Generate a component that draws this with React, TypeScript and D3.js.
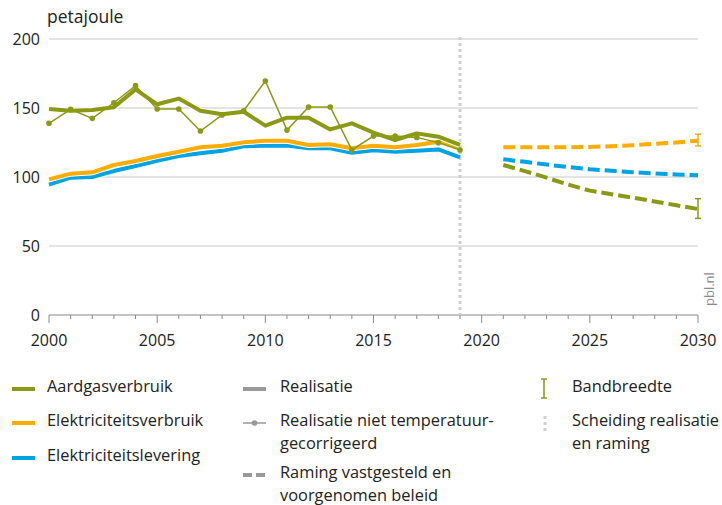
import * as d3 from 'd3';

const years = d3.range(2000, 2020);
const projYears = d3.range(2021, 2031);

const gasCorrected = [149.3, 148, 148.5, 150.5, 163.5, 152.7, 156.8, 148, 145.4, 147.3, 137.2, 143, 143, 134.5, 138.9, 132.1, 126.8, 131.6, 129.2, 123.2];
const gasActual = [138.9, 149, 142.5, 153.8, 166.2, 149.3, 149.3, 133.3, 145, 148, 169.6, 134, 150.7, 150.7, 119.6, 129.7, 129.7, 128.7, 124.9, 119.6];
const elecUse = [98.3, 102.4, 103.4, 108.7, 111.6, 115.2, 118.3, 121.5, 122.7, 125.1, 126.3, 126.3, 123.2, 123.7, 120.8, 122.7, 121.5, 123.2, 125.6, 121.5];
const elecSupply = [94.5, 99.5, 100, 104.3, 108, 111.8, 115.2, 117.2, 119, 122.2, 122.7, 122.8, 120.8, 120.8, 117.6, 119.3, 118.3, 119, 120, 114.3];

const gasProj = [108.7, 104.3, 99.5, 94.5, 90.1, 87.5, 85, 82.3, 79.5, 76.8];
const elecUseProj = [121.5, 121.5, 121.5, 121.5, 121.8, 122.3, 123, 124, 125, 126.3];
const elecSupplyProj = [112.8, 111, 109, 107.2, 105.6, 104.5, 103.5, 102.6, 101.8, 101.2];

// bandbreedte 2030 [low, high]
const gasBand = [70, 84.3];
const elecUseBand = [122.5, 131];

const yTicks = [0, 50, 100, 150, 200];
const xTickLabels = [2000, 2005, 2010, 2015, 2020, 2025, 2030];
const splitYear = 2019;

const GREEN = '#8a9a14';
const ORANGE = '#ffac00';
const BLUE = '#00a3e4';
const FONT = '"Open Sans", sans-serif';

export default function App() {
  const x = d3.scaleLinear().domain([2000, 2030]).range([49, 698]);
  const y = d3.scaleLinear().domain([0, 200]).range([315, 39]);

  const line = d3
    .line<[number, number]>()
    .x((d) => x(d[0]))
    .y((d) => y(d[1]));

  const pair = (xs: number[], vs: number[]) => xs.map((yr, i) => [yr, vs[i]] as [number, number]);

  const realised = [
    { vals: elecSupply, color: BLUE },
    { vals: elecUse, color: ORANGE },
    { vals: gasCorrected, color: GREEN },
  ];
  const projected = [
    { vals: gasProj, color: GREEN },
    { vals: elecSupplyProj, color: BLUE },
    { vals: elecUseProj, color: ORANGE },
  ];
  const bands = [
    { band: gasBand, color: GREEN },
    { band: elecUseBand, color: ORANGE },
  ];

  const allYears = d3.range(2000, 2031);

  return (
    <svg width={722} height={505} style={{ position: 'absolute', left: 0, top: 0 }} fontFamily={FONT}>
      <rect width={722} height={505} fill="#fff" />
      <text x={47} y={23} fontSize={17.5} fill="#222">petajoule</text>

      {/* grid */}
      {yTicks.map((t) => (
        <g key={t}>
          {t > 0 && <line x1={x(2000)} x2={x(2030)} y1={y(t)} y2={y(t)} stroke="#c9c9c9" strokeWidth={1} />}
          <text x={40} y={y(t)} dy="0.35em" textAnchor="end" fontSize={16} fill="#222">{t}</text>
        </g>
      ))}

      {/* x axis */}
      <line x1={x(2000)} x2={x(2030)} y1={y(0)} y2={y(0)} stroke="#8a8a8a" strokeWidth={1} />
      {allYears.map((yr) => (
        <line key={yr} x1={x(yr)} x2={x(yr)} y1={y(0)} y2={y(0) + (yr % 5 === 0 ? 8 : 4)} stroke="#8a8a8a" strokeWidth={1} />
      ))}
      {xTickLabels.map((yr) => (
        <text key={yr} x={x(yr)} y={346} textAnchor="middle" fontSize={16} fill="#222">{yr}</text>
      ))}

      {/* separator */}
      <line x1={x(splitYear)} x2={x(splitYear)} y1={37} y2={y(0)} stroke="#d0d0d0" strokeWidth={3} strokeDasharray="3,3" />

      {/* realisation */}
      {realised.map((s, i) => (
        <g key={i}>
          <path d={line(pair(years, s.vals)) ?? ''} fill="none" stroke="#fff" strokeWidth={6} strokeLinejoin="round" />
          <path d={line(pair(years, s.vals)) ?? ''} fill="none" stroke={s.color} strokeWidth={4} strokeLinejoin="round" />
        </g>
      ))}

      {/* not temperature corrected */}
      <path d={line(pair(years, gasActual)) ?? ''} fill="none" stroke={GREEN} strokeWidth={1.5} />
      {gasActual.map((v, i) => (
        <circle key={i} cx={x(years[i])} cy={y(v)} r={2.8} fill={GREEN} />
      ))}

      {/* projections */}
      {projected.map((s, i) => (
        <path key={i} d={line(pair(projYears, s.vals)) ?? ''} fill="none" stroke={s.color} strokeWidth={4} strokeDasharray="12,5" />
      ))}

      {/* bandwidth */}
      {bands.map((b, i) => (
        <g key={i} stroke={b.color} strokeWidth={1.5}>
          <line x1={x(2030)} x2={x(2030)} y1={y(b.band[0])} y2={y(b.band[1])} />
          <line x1={x(2030) - 3} x2={x(2030) + 3} y1={y(b.band[0])} y2={y(b.band[0])} />
          <line x1={x(2030) - 3} x2={x(2030) + 3} y1={y(b.band[1])} y2={y(b.band[1])} />
        </g>
      ))}

      <text transform="translate(714,306) rotate(-90)" fontSize={13} fill="#8a8a8a">pbl.nl</text>

      {/* legend */}
      <g fontSize={16.4} fill="#222">
        <line x1={12} x2={35} y1={389} y2={389} stroke={GREEN} strokeWidth={4} />
        <text x={47} y={392}>Aardgasverbruik</text>
        <line x1={12} x2={35} y1={423} y2={423} stroke={ORANGE} strokeWidth={4} />
        <text x={47} y={426}>Elektriciteitsverbruik</text>
        <line x1={12} x2={35} y1={458} y2={458} stroke={BLUE} strokeWidth={4} />
        <text x={47} y={461}>Elektriciteitslevering</text>

        <line x1={243} x2={266} y1={389} y2={389} stroke="#999" strokeWidth={4} />
        <text x={280} y={392}>Realisatie</text>
        <line x1={243} x2={266} y1={423} y2={423} stroke="#999" strokeWidth={1.5} />
        <circle cx={254.5} cy={423} r={2.8} fill="#999" />
        <text x={280} y={426}>Realisatie niet temperatuur-</text>
        <text x={280} y={449}>gecorrigeerd</text>
        <line x1={243} x2={266} y1={475} y2={475} stroke="#999" strokeWidth={4} strokeDasharray="9,4" />
        <text x={280} y={478}>Raming vastgesteld en</text>
        <text x={280} y={501}>voorgenomen beleid</text>

        <g stroke={GREEN} strokeWidth={1.5}>
          <line x1={544} x2={544} y1={379} y2={398} />
          <line x1={541} x2={547} y1={379} y2={379} />
          <line x1={541} x2={547} y1={398} y2={398} />
        </g>
        <text x={572} y={392}>Bandbreedte</text>
        <line x1={545} x2={545} y1={416} y2={432} stroke="#d0d0d0" strokeWidth={3} strokeDasharray="3,3" />
        <text x={572} y={426}>Scheiding realisatie</text>
        <text x={572} y={449}>en raming</text>
      </g>
    </svg>
  );
}
